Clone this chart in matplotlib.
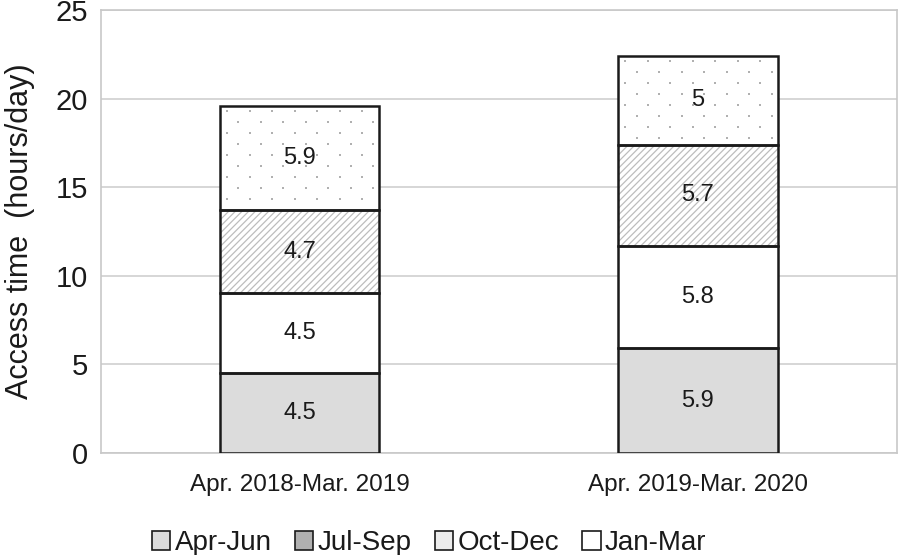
import numpy as np
import matplotlib.pyplot as plt
from matplotlib.patches import Patch

plt.rcParams['font.family'] = ['Liberation Sans', 'DejaVu Sans']
plt.rcParams['hatch.linewidth'] = 0.9

# Данні
periods = ['Apr. 2018-Mar. 2019', 'Apr. 2019-Mar. 2020']
quarters = ['Apr-Jun', 'Jul-Sep', 'Oct-Dec', 'Jan-Mar']
apr_jun = [4.5, 5.9]
jul_sep = [4.5, 5.8]
oct_dec = [4.7, 5.7]
jan_mar = [5.9, 5.0]

series = [apr_jun, jul_sep, oct_dec, jan_mar]
# стиль сегментів у стовпчиках (знизу вгору)
fills = ['#dcdcdc', 'white', 'white', 'white']
hatches = [None, None, '/////', None]
dotted = [False, False, False, True]
# стиль маркерів легенди
legend_fills = ['#dcdcdc', '#b0b0b0', '#ececec', 'white']

fig, ax = plt.subplots(figsize=(8.98, 5.55), dpi=100)
fig.subplots_adjust(left=0.112, right=0.999, top=0.982, bottom=0.184)

x = np.arange(len(periods))
width = 0.4

ax.set_xlim(-0.5, 1.5)
ax.set_ylim(0, 25)


def add_dots(x0, x1, y0, y1, step=22.5, row=11):
    # крапчастий візерунок у пікселях
    (px0, py0), (px1, py1) = ax.transData.transform([(x0, y0), (x1, y1)])
    pts = []
    for i, py in enumerate(np.arange(py1 - 5, py0 + 2, -row)):
        start = px0 + 7 + (i % 2) * step / 2
        for px in np.arange(start, px1 - 2, step):
            pts.append((px, py))
    pts = ax.transData.inverted().transform(np.array(pts))
    ax.scatter(pts[:, 0], pts[:, 1], marker='s', s=2.6, color='#b0b0b0',
               linewidths=0, zorder=2.5)


bottom = np.zeros(len(periods))
for vals, fc, h, dot in zip(series, fills, hatches, dotted):
    vals = np.array(vals)
    # заливка з візерунком
    ax.bar(x, vals, width, bottom=bottom, color=fc, edgecolor='#bdbdbd',
           hatch=h, linewidth=0, zorder=2)
    if dot:
        for xi, b, v in zip(x, bottom, vals):
            add_dots(xi - width / 2, xi + width / 2, b, b + v)
    # контур
    ax.bar(x, vals, width, bottom=bottom, fill=False, edgecolor='#1a1a1a',
           linewidth=1.8, zorder=3)
    for xi, b, v in zip(x, bottom, vals):
        ax.text(xi, b + v / 2, f'{v:g}', ha='center', va='center',
                fontsize=17, color='#1a1a1a', zorder=4)
    bottom += vals

ax.set_yticks(np.arange(0, 26, 5))
ax.set_xticks(x)
ax.set_xticklabels(periods, fontsize=17.5, color='#1a1a1a')
ax.tick_params(axis='y', labelsize=21, length=0, pad=9, labelcolor='#1a1a1a')
ax.tick_params(axis='x', length=0, pad=15)
ax.set_ylabel('Access time  (hours/day)', fontsize=22, labelpad=15,
              color='#1a1a1a')

ax.yaxis.grid(True, color='#d0d0d0', linewidth=1.2, zorder=0)
ax.set_axisbelow(True)
for s in ax.spines.values():
    s.set_color('#c8c8c8')
    s.set_linewidth(1.2)

handles = [Patch(facecolor=c, edgecolor='#1a1a1a', linewidth=1.2)
           for c in legend_fills]
fig.legend(handles, quarters, loc='lower center', ncol=4, frameon=False,
           fontsize=20, bbox_to_anchor=(0.478, -0.047), handlelength=0.65,
           handleheight=0.65, handletextpad=0.15, columnspacing=0.85,
           labelcolor='#1a1a1a')

fig.savefig('out.png', dpi=100)
